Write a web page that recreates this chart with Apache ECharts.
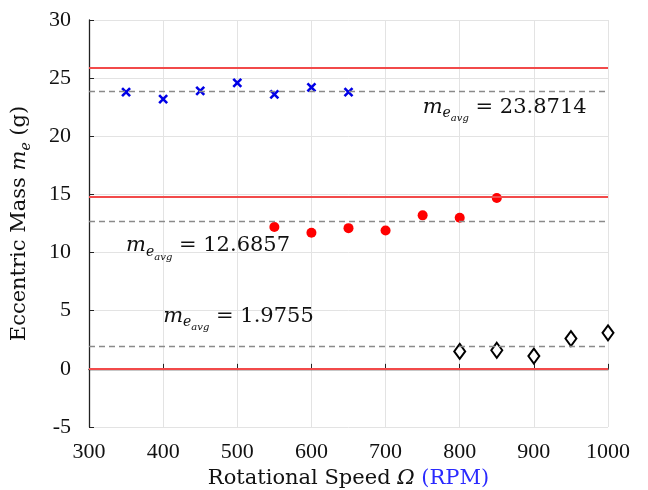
<!DOCTYPE html>
<html><head><meta charset="utf-8">
<script src="https://cdn.jsdelivr.net/npm/echarts@6/dist/echarts.min.js"></script>
<style>html,body{margin:0;padding:0;background:#fff}#c{width:648px;height:490px}</style>
</head><body><div id="c"></div>
<script>
var speedsA = [350, 400, 450, 500, 550, 600, 650];
var massA = [23.8, 23.2, 23.9, 24.6, 23.6, 24.2, 23.8];
var speedsB = [550, 600, 650, 700, 750, 800, 850];
var massB = [12.2, 11.7, 12.1, 11.9, 13.2, 13.0, 14.7];
var speedsC = [800, 850, 900, 950, 1000];
var massC = [1.5, 1.6, 1.1, 2.6, 3.1];
var averages = [23.8714, 12.6857, 1.9755];
var limitLines = [25.9, 14.8, 0];
var avgLabelPos = [[750, 22.36], [350, 10.44], [400, 4.39]];

var serif = '"Liberation Serif", serif';
var serifW = '"DejaVu Serif", serif';
var chart = echarts.init(document.getElementById('c'));

function zip(xs, ys) { return xs.map(function (x, i) { return [x, ys[i]]; }); }

var richAvg = {
  m: { fontFamily: serifW, fontStyle: 'italic', fontSize: 21, fill: '#111', verticalAlign: 'top', lineHeight: 24 },
  e: { fontFamily: serifW, fontStyle: 'italic', fontSize: 14, fill: '#111', verticalAlign: 'top', padding: [10, 0, 0, 0] },
  s: { fontFamily: serifW, fontStyle: 'italic', fontSize: 10, fill: '#111', verticalAlign: 'top', padding: [17, 0, 0, 0] },
  v: { fontFamily: serifW, fontSize: 21, fill: '#111', verticalAlign: 'top', lineHeight: 24 }
};

var series = [
  {
    type: 'line', data: [], silent: true,
    markLine: {
      silent: true, symbol: 'none', animation: false,
      lineStyle: { color: '#f24a4a', width: 2, type: 'solid' },
      label: { show: false },
      data: limitLines.map(function (v) { return { yAxis: v }; })
    }
  },
  {
    type: 'line', data: [], silent: true,
    markLine: {
      silent: true, symbol: 'none', animation: false,
      lineStyle: { color: '#8a8a8a', width: 1.3, type: [6, 4] },
      label: { show: false },
      data: averages.map(function (v) { return { yAxis: v }; })
    }
  },
  {
    type: 'scatter', data: zip(speedsA, massA),
    symbol: 'path://M0,0L10,10M10,0L0,10', symbolSize: 8,
    itemStyle: { color: 'rgba(0,0,0,0)', borderColor: '#0000e6', borderWidth: 2.6, opacity: 1 }
  },
  {
    type: 'scatter', data: zip(speedsB, massB),
    symbol: 'circle', symbolSize: 10,
    itemStyle: { color: '#ff0000', opacity: 1 }
  },
  {
    type: 'scatter', data: zip(speedsC, massC),
    symbol: 'diamond', symbolSize: [11, 15],
    itemStyle: { color: '#fff', borderColor: '#000', borderWidth: 2, opacity: 1 }
  }
];

chart.setOption({
  animation: false,
  grid: { left: 89, right: 40, top: 20, bottom: 63, containLabel: false, outerBoundsMode: 'none' },
  xAxis: {
    type: 'value', min: 300, max: 1000, interval: 100,
    axisLine: { lineStyle: { color: '#222', width: 1.3 } },
    axisTick: { inside: true, length: 5, lineStyle: { color: '#222' } },
    axisLabel: { fontFamily: serif, fontSize: 22, color: '#111', margin: 14, formatter: function (v) { return String(v); } },
    splitLine: { show: true, lineStyle: { color: '#e3e3e3', width: 1 } },
    name: '{t|Rotational Speed }{o|Ω}{b| (RPM)}',
    nameLocation: 'middle', nameGap: 41,
    nameTextStyle: {
      rich: {
        t: { fontFamily: serifW, fontSize: 21, color: '#111' },
        o: { fontFamily: serifW, fontSize: 21, fontStyle: 'italic', color: '#111' },
        b: { fontFamily: serifW, fontSize: 21, color: '#2a2aff' }
      }
    }
  },
  yAxis: {
    type: 'value', min: -5, max: 30, interval: 5,
    axisLine: { show: true, lineStyle: { color: '#222', width: 1.3 } },
    axisTick: { show: true, inside: true, length: 5, lineStyle: { color: '#222' } },
    axisLabel: { fontFamily: serif, fontSize: 22, color: '#111', margin: 18 },
    splitLine: { show: true, lineStyle: { color: '#e3e3e3', width: 1 } },
    name: '{t|Eccentric Mass }{m|m}{e|e}{t| (g)}',
    nameLocation: 'middle', nameGap: 56,
    nameTextStyle: {
      rich: {
        t: { fontFamily: serifW, fontSize: 21, color: '#111', verticalAlign: 'top', lineHeight: 24 },
        m: { fontFamily: serifW, fontSize: 21, fontStyle: 'italic', color: '#111', verticalAlign: 'top', lineHeight: 24 },
        e: { fontFamily: serifW, fontSize: 14, fontStyle: 'italic', color: '#111', verticalAlign: 'top', padding: [10, 0, 0, 0] }
      }
    }
  },
  series: series
});

var graphics = avgLabelPos.map(function (p, i) {
  var px = chart.convertToPixel({ gridIndex: 0 }, p);
  return {
    type: 'text', x: px[0], y: px[1] - 12, z: 100,
    style: {
      text: '{m|m}{e|e}{s|avg}{v| = ' + averages[i] + '}',
      rich: richAvg, align: 'left', verticalAlign: 'top'
    }
  };
});
chart.setOption({ graphic: graphics });
</script></body></html>
